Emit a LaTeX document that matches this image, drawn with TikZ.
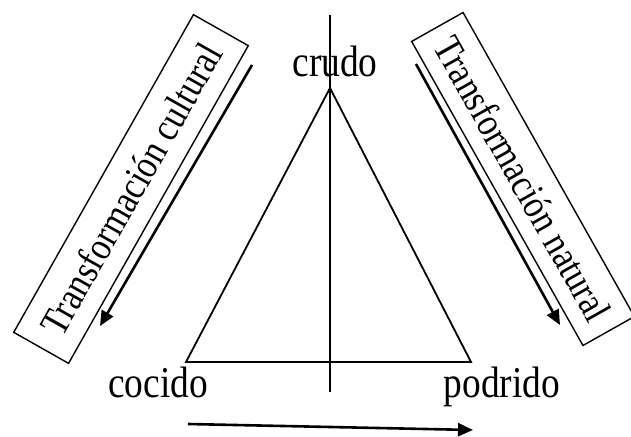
\documentclass[tikz,border=0pt]{standalone}
\usepackage{fontspec}
\setmainfont{Liberation Serif}
\newfontfamily\diagfont[FakeStretch=0.85]{Liberation Serif}
\usetikzlibrary{arrows.meta}

\begin{document}
\begin{tikzpicture}[
  x=1pt, y=-1pt,
  >={Triangle[length=15pt,width=13pt]},
  vertex/.style={font=\diagfont\fontsize{44}{48}\selectfont, inner sep=0pt, anchor=base},
  band/.style={draw, line width=1.4pt, inner sep=0pt,
    font=\diagfont\fontsize{40}{44}\selectfont},
  flow/.style={->, line width=2.6pt},
  edge/.style={line width=1.8pt}
]
\useasboundingbox (0,0) rectangle (631,436);

% ---- triangle corners and axis ----
\coordinate (raw) at (330,88);
\coordinate (cooked) at (186,362);
\coordinate (rotten) at (471,362);
\coordinate (axtop) at (330,15);
\coordinate (axbot) at (330,392);

\draw[edge, line join=miter] (raw) -- (cooked) -- (rotten) -- cycle;
\draw[edge] (axtop) -- (axbot);

% ---- corner labels ----
\node[vertex] (crudo) at (335,76) {crudo};
\node[vertex] (cocido) at (158,397) {cocido};
\node[vertex] (podrido) at (502,397) {podrido};

% ---- side bands ----
\node[band, minimum width=365pt, minimum height=63pt, rotate=60.5]
  (cultural) at (131,189) {Transformación cultural};
\node[band, minimum width=349pt, minimum height=59pt, rotate=-60.6]
  (natural) at (523,179) {Transformación natural};

% ---- direction arrows ----
\coordinate (cul-s) at (252,65);
\coordinate (cul-e) at (100,326);
\coordinate (nat-s) at (416,64);
\coordinate (nat-e) at (560,325);
\coordinate (bot-s) at (188,424);
\coordinate (bot-e) at (473,430);

\draw[flow] (cul-s) -- (cul-e);
\draw[flow] (nat-s) -- (nat-e);
\draw[flow] (bot-s) -- (bot-e);

\end{tikzpicture}
\end{document}
